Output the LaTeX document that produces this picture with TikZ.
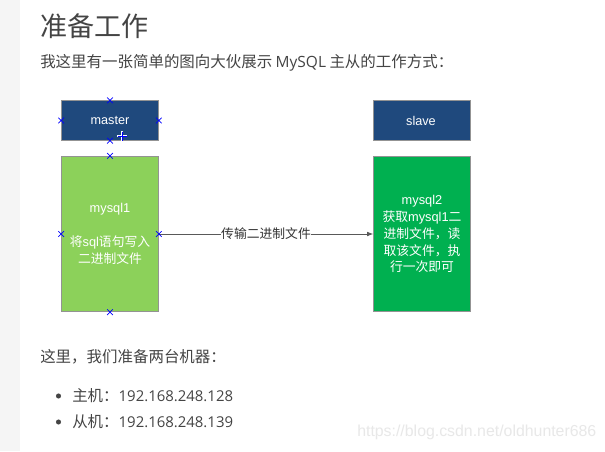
\documentclass[tikz,border=0pt]{standalone}
\usepackage{fontspec}
\setmainfont{Noto Sans CJK SC}
\newfontfamily\boxfont{Liberation Sans}
\newfontfamily\bodyfont{Open Sans}
\usetikzlibrary{shapes.misc,arrows.meta}
\definecolor{headblue}{HTML}{1F497D}
\definecolor{leafgreen}{HTML}{8CD15A}
\definecolor{deepgreen}{HTML}{00B050}
\definecolor{pagegray}{HTML}{F5F5F5}
\definecolor{bodygray}{HTML}{444444}
\newcommand{\ltn}[1]{{\boxfont #1}}
\newcommand{\bdy}[1]{{\bodyfont #1}}
\newcommand{\ipnum}[1]{{\bodyfont\fontsize{11.2}{14}\selectfont #1}}
\tikzset{
  titlebox/.style={draw=gray!85, line width=0.75pt, fill=headblue, text=white, minimum width=72.5pt, minimum height=29.5pt, inner sep=0pt, font=\fontsize{9.5}{12}\selectfont},
  mysqlbox/.style={draw=gray!85, line width=0.75pt, text=white, minimum width=72.5pt, minimum height=116.5pt, inner sep=0pt, align=center, font=\fontsize{9.6}{12.7}\selectfont},
  handle/.style={cross out, draw=blue, line width=0.6pt, minimum size=3.6pt, inner sep=0pt},
  bodytext/.style={anchor=west, text=bodygray, inner sep=0pt, font=\fontsize{11.6}{14}\selectfont},
  dotmark/.style={circle, fill=bodygray, minimum size=3.8pt, inner sep=0pt}
}
\begin{document}
\begin{tikzpicture}[x=0.75pt, y=-0.75pt]
    \useasboundingbox (0,0) rectangle (605,451);

    % Fondo de la pagina
    \fill[white] (0,0) rectangle (605,451);
    \fill[pagegray] (0,0) rectangle (20,451);

    % Titulo y parrafo
    \node[bodytext, font=\fontsize{20.3}{24}\selectfont] (heading) at (40,26) {准备工作};
    \node[bodytext] (intro) at (40,63) {我这里有一张简单的图向大伙展示 \bdy{MySQL} 主从的工作方式：};

    % Cajas superiores
    \node[titlebox] (master) at (110,120.5) {\ltn{master}};
    \node[titlebox] (slave) at (422,120.5) {\hspace{-1.5pt}\ltn{slave}};

    % Cajas mysql
    \node[mysqlbox, fill=leafgreen] (mysql1) at (110,234) {\ltn{mysql1}\\[12.7pt]将\ltn{sql}语句写入\\二进制文件};
    \node[mysqlbox, fill=deepgreen] (mysql2) at (422,234) {\ltn{mysql2}\\获取\ltn{mysql1}二\\进制文件，读\\取该文件，执\\行一次即可};

    % Flecha entre las cajas
    \draw[-{Latex[length=4.5pt,width=3.5pt]}, gray!70!black, line width=0.6pt] (mysql1.east) -- node[fill=white, text=black!80, inner xsep=0pt, inner ysep=1pt, font=\fontsize{9.6}{12}\selectfont] (sendlabel) {传输二进制文件} (mysql2.west);

    % Marcas de seleccion
    \node[handle] (mn) at (master.north) {};
    \node[handle] (mw) at (master.west) {};
    \node[handle] (me) at (master.east) {};
    \node[handle] (ms) at (master.south) {};
    \node[handle] (qn) at (mysql1.north) {};
    \node[handle] (qw) at (mysql1.west) {};
    \node[handle] (qe) at (mysql1.east) {};
    \node[handle] (qs) at (mysql1.south) {};

    % Cursor
    \draw[white, line width=1.4pt] (117,136) -- (127,136) (122,131) -- (122,141);
    \draw[blue, line width=0.5pt] (117.5,136) -- (126.5,136) (122,131.5) -- (122,140.5);

    % Texto inferior
    \node[bodytext] (closing) at (40,357) {这里，我们准备两台机器：};
    \node[dotmark] (dot1) at (58.5,396) {};
    \node[bodytext] (host1) at (72,396) {主机：\ipnum{192.168.248.128}};
    \node[dotmark] (dot2) at (58.5,422) {};
    \node[bodytext] (host2) at (72,422) {从机：\ipnum{192.168.248.139}};

    % Marca de agua
    \node[anchor=west, inner sep=0pt, text=black!9, font=\boxfont\fontsize{11.9}{14}\selectfont] (mark) at (357,432) {https://blog.csdn.net/oldhunter686};
\end{tikzpicture}
\end{document}
